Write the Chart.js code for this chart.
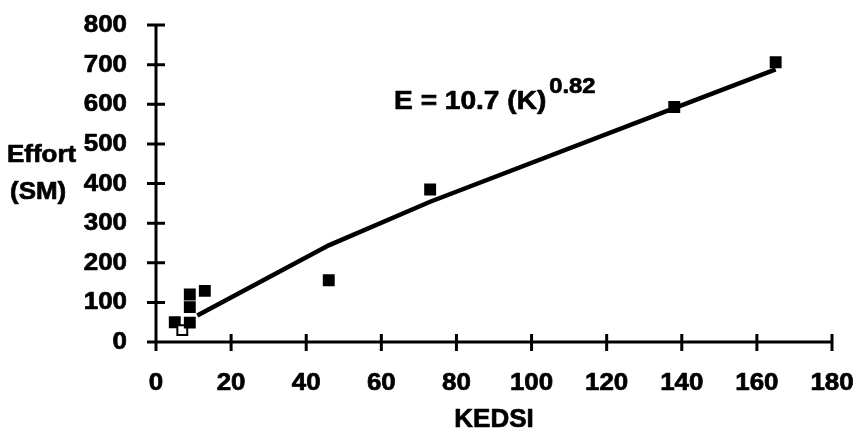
<!DOCTYPE html>
<html>
<head>
<meta charset="utf-8">
<script src="https://cdn.jsdelivr.net/npm/chart.js@4/dist/chart.umd.min.js"></script>
<style>
  html, body { margin: 0; background: #fff; }
  #wrap { width: 854px; height: 432px; }
</style>
</head>
<body>
<div id="wrap"><canvas id="chart"></canvas></div>
<script>
// observed projects
const kedsi = [5, 7, 9, 9, 9, 13, 46, 73, 138, 165];
const effort = [50, 30, 49, 88, 120, 129, 156, 385, 593, 706];
// fitted curve as drawn
const fitK = [11, 46, 73, 138, 165];
const fitE = [67, 244, 354, 590, 688];

const xMax = 180, xStep = 20;
const yMax = 800, yStep = 100;

const FONT = '"Liberation Sans", Arial, Helvetica, sans-serif';

const toPoints = (xs, ys) => xs.map((x, i) => ({ x: x, y: ys[i] }));

// heavy, slightly wide text like the old Helvetica Bold
function heavyText(ctx, text, x, y, size, align, stretch) {
  stretch = stretch || 1.08;
  ctx.save();
  ctx.font = 'bold ' + size + 'px ' + FONT;
  ctx.textAlign = align;
  ctx.translate(x, y);
  ctx.scale(stretch, 1);
  ctx.lineWidth = 0.7;
  ctx.lineJoin = 'round';
  ctx.strokeStyle = '#000';
  ctx.fillText(text, 0, 0);
  ctx.strokeText(text, 0, 0);
  const w = ctx.measureText(text).width * stretch;
  ctx.restore();
  return w;
}

const decorations = {
  id: 'decorations',
  beforeDatasetsDraw(chart) {
    const { ctx, chartArea: a, scales: { x, y } } = chart;
    ctx.save();
    ctx.strokeStyle = '#000';
    ctx.lineWidth = 3;
    ctx.beginPath();
    ctx.moveTo(a.left, a.bottom);
    ctx.lineTo(a.right + 1, a.bottom);
    ctx.moveTo(a.left, a.bottom + 1);
    ctx.lineTo(a.left, a.top);
    x.ticks.forEach(t => {
      const px = x.getPixelForValue(t.value);
      ctx.moveTo(px, a.bottom - 8);
      ctx.lineTo(px, a.bottom + 9);
    });
    y.ticks.forEach(t => {
      const py = y.getPixelForValue(t.value);
      ctx.moveTo(a.left - 9, py);
      ctx.lineTo(a.left + 9, py);
    });
    ctx.stroke();
    ctx.restore();
  },
  afterDraw(chart) {
    const { ctx, chartArea: a, scales: { x, y } } = chart;
    ctx.save();
    ctx.fillStyle = '#000';
    ctx.textBaseline = 'alphabetic';

    // tick labels
    x.ticks.forEach(t => {
      heavyText(ctx, String(t.value), x.getPixelForValue(t.value), a.bottom + 48, 24, 'center');
    });
    y.ticks.forEach(t => {
      heavyText(ctx, String(t.value), a.left - 29, y.getPixelForValue(t.value) + 7, 24, 'right');
    });

    // y title, written flat beside the ticks
    heavyText(ctx, 'Effort', 7, y.getPixelForValue(500) + 18, 24, 'left');
    heavyText(ctx, '(SM)', 10, y.getPixelForValue(400) + 15, 24, 'left');

    // x title
    heavyText(ctx, 'KEDSI', (a.left + a.right) / 2, 427, 26, 'center', 1.0);

    // fitted equation
    const ex = x.getPixelForValue(63.4);
    const ey = y.getPixelForValue(588);
    const w = heavyText(ctx, 'E = 10.7 (K)', ex, ey, 26, 'left');
    heavyText(ctx, '0.82', ex + w + 3, ey - 16, 22, 'left');
    ctx.restore();
  }
};

new Chart(document.getElementById('chart'), {
  type: 'scatter',
  data: {
    datasets: [
      {
        label: 'Fit',
        data: toPoints(fitK, fitE),
        showLine: true,
        borderColor: '#000',
        borderWidth: 4.5,
        pointRadius: 0,
        tension: 0,
        order: 2
      },
      {
        label: 'Projects',
        data: toPoints(kedsi, effort),
        pointStyle: 'rect',
        pointRadius: 7,
        pointHoverRadius: 7,
        pointBackgroundColor: kedsi.map((_, i) => (i === 1 ? '#fff' : '#000')),
        pointBorderColor: '#000',
        pointBorderWidth: 2,
        order: 1
      }
    ]
  },
  options: {
    responsive: true,
    maintainAspectRatio: false,
    animation: false,
    clip: false,
    layout: { padding: { top: 25, right: 22, left: 0, bottom: 0 } },
    plugins: {
      legend: { display: false },
      tooltip: { enabled: false }
    },
    scales: {
      x: {
        type: 'linear',
        min: 0,
        max: xMax,
        grid: { display: false, drawTicks: false },
        border: { display: false },
        ticks: { stepSize: xStep, display: false },
        afterFit(scale) { scale.height = 90; }
      },
      y: {
        type: 'linear',
        min: 0,
        max: yMax,
        grid: { display: false, drawTicks: false },
        border: { display: false },
        ticks: { stepSize: yStep, display: false },
        afterFit(scale) { scale.width = 156; }
      }
    }
  },
  plugins: [decorations]
});
</script>
</body>
</html>
